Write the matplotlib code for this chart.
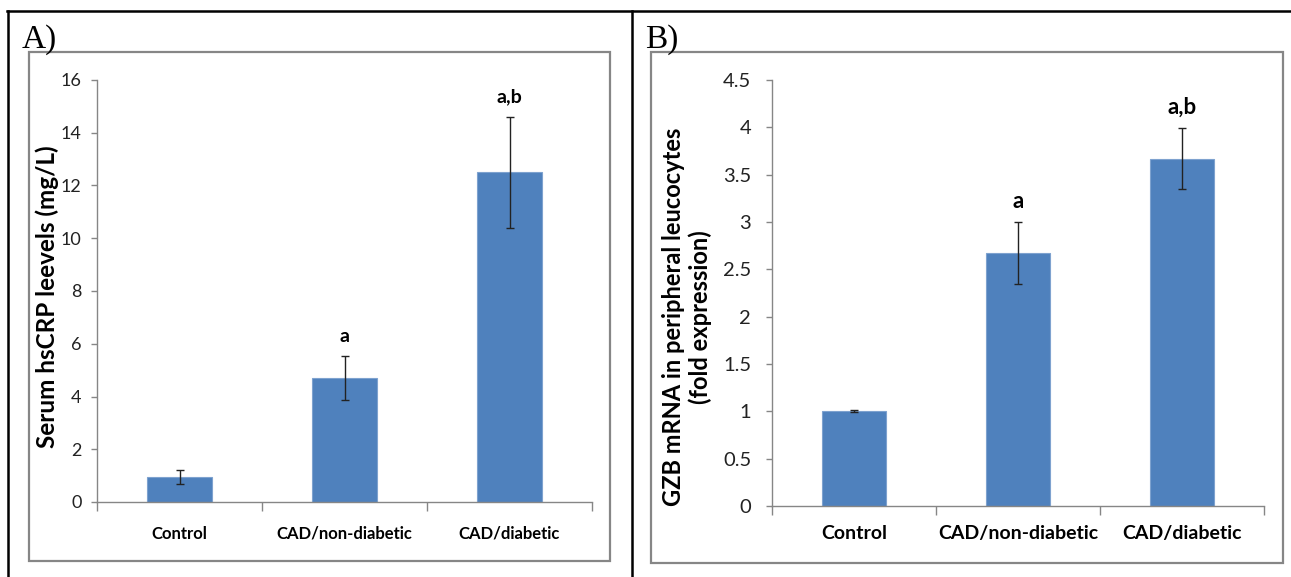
import matplotlib
matplotlib.use('Agg')
import matplotlib.pyplot as plt
from matplotlib.ticker import FormatStrFormatter, FixedLocator
from matplotlib.lines import Line2D
from matplotlib.patches import Rectangle

# data
groups = ["Control", "CAD/non-diabetic", "CAD/diabetic"]

crp_mean = [0.95, 4.7, 12.5]
crp_err = [0.25, 0.82, 2.1]
crp_sig = ["", "a", "a,b"]

gzb_mean = [1.0, 2.67, 3.67]
gzb_err = [0.01, 0.33, 0.32]
gzb_sig = ["", "a", "a,b"]

W, H = 1291, 577
BAR = '#4F81BD'
GREY = '#868686'
CAL = ['Lato', 'DejaVu Sans']

fig = plt.figure(figsize=(W / 100, H / 100), dpi=100)


def fx(px):
    return px / W


def fy(py):
    return 1 - py / H


def panel(ax, means, errs, sig, ymax, step, sig_off, sig_size, tick_size, cat_size, ypad, xpad):
    x = range(len(groups))
    ax.bar(x, means, width=0.394, color=BAR, edgecolor='#7EA2CF', linewidth=0.8, zorder=2)
    ax.errorbar(x, means, yerr=errs, fmt='none', ecolor='#222222', elinewidth=1.0,
                capsize=3, capthick=1.0, zorder=3)
    for i, s in enumerate(sig):
        if s:
            ax.text(i, means[i] + errs[i] + sig_off, s, ha='center', va='center',
                    fontsize=sig_size, fontweight='bold', family=CAL)
    ax.set_xlim(-0.5, len(groups) - 0.5)
    ax.set_ylim(0, ymax)
    n = int(round(ymax / step))
    ax.set_yticks([i * step for i in range(n + 1)])
    ax.yaxis.set_major_formatter(FormatStrFormatter('%g'))
    ax.set_xticks(list(x))
    ax.set_xticklabels(groups)
    ax.xaxis.set_minor_locator(FixedLocator([i - 0.5 for i in range(len(groups) + 1)]))
    ax.tick_params(axis='x', which='major', length=0, pad=xpad)
    ax.tick_params(axis='x', which='minor', length=6.5, width=1.0, color=GREY, direction='out')
    ax.tick_params(axis='y', length=4, width=1.0, color=GREY, pad=ypad)
    for lab in ax.get_yticklabels():
        lab.set_family(CAL)
        lab.set_fontsize(tick_size)
        lab.set_color('#222222')
    for lab in ax.get_xticklabels():
        lab.set_family(CAL)
        lab.set_fontsize(cat_size)
        lab.set_fontweight('bold')
    for sp in ['top', 'right']:
        ax.spines[sp].set_visible(False)
    for sp in ['left', 'bottom']:
        ax.spines[sp].set_color(GREY)
        ax.spines[sp].set_linewidth(1.0)


axA = fig.add_axes([fx(97), fy(502), fx(592) - fx(97), fy(80) - fy(502)])
panel(axA, crp_mean, crp_err, crp_sig, 16, 2, 0.75, 14, 13, 12, 7, 17)

axB = fig.add_axes([fx(772), fy(506), fx(1264) - fx(772), fy(80) - fy(506)])
panel(axB, gzb_mean, gzb_err, gzb_sig, 4.5, 0.5, 0.22, 16, 14.5, 14, 11, 14)

fig.text(fx(47), fy(297), "Serum hsCRP leevels (mg/L)", rotation=90, ha='center', va='center',
         fontsize=17.5, fontweight='bold', family=CAL)
fig.text(fx(687), fy(317), "GZB mRNA in peripheral leucocytes\n(fold expression)", rotation=90,
         ha='center', va='center', fontsize=17, fontweight='bold', family=CAL,
         multialignment='center', linespacing=1.2)

# panel letters
fig.text(fx(22), fy(48), "A)", fontsize=24, family=['Liberation Serif'], ha='left', va='baseline')
fig.text(fx(645), fy(48), "B)", fontsize=24, family=['Liberation Serif'], ha='left', va='baseline')

# inner chart boxes
for (x0, y0, x1, y1) in [(29, 52, 610, 561), (651, 52, 1283, 563)]:
    fig.patches.append(Rectangle((fx(x0), fy(y1)), fx(x1) - fx(x0), fy(y0) - fy(y1),
                                 transform=fig.transFigure, fill=False, edgecolor=GREY, linewidth=1.6))

# outer table lines
for xs, ys in [([7, W], [11, 11]), ([8, 8], [11, H]), ([632, 632], [11, H])]:
    fig.lines.append(Line2D([fx(v) for v in xs], [fy(v) for v in ys], transform=fig.transFigure,
                            color='black', linewidth=1.8))

fig.savefig('out.png', dpi=100)
